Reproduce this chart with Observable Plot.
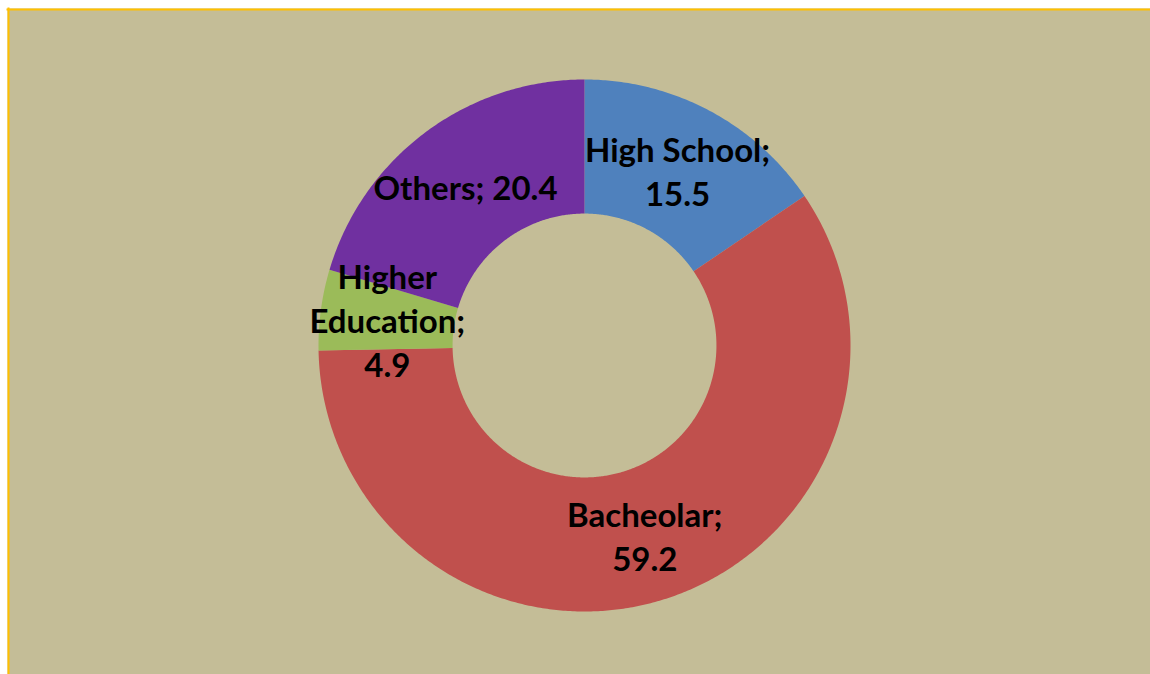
<!DOCTYPE html>
<html>
<head>
<meta charset="utf-8">
<script src="https://cdn.jsdelivr.net/npm/d3@7"></script>
<script src="https://cdn.jsdelivr.net/npm/@observablehq/plot@0.6"></script>
<style>
  html, body { margin: 0; padding: 0; background: #ffffff; overflow: hidden; }
  #chart svg { display: block; }
</style>
</head>
<body>
<div id="chart"></div>
<script>
// ---- data ----
const categories = ["High School", "Bacheolar", "Higher Education", "Others"];
const values = [15.5, 59.2, 4.9, 20.4];
const colors = ["#4F81BD", "#C0504D", "#9BBB59", "#7030A0"];
const labelTexts = ["High School;\n15.5", "Bacheolar;\n59.2", "Higher\nEducation;\n4.9", "Others; 20.4"];

// ---- geometry in data units (outer radius = 1) ----
const innerRatio = 0.496;
const total = d3.sum(values);
let cum = 0;
const slices = values.map((v, i) => {
  const a0 = cum / total * 2 * Math.PI;
  cum += v;
  const a1 = cum / total * 2 * Math.PI;
  return {cat: categories[i], value: v, a0, a1, label: labelTexts[i]};
});

const polyPoints = [];
for (const s of slices) {
  const n = Math.max(2, Math.ceil((s.a1 - s.a0) / (Math.PI / 360)));
  for (let k = 0; k <= n; k++) {
    const a = s.a0 + (s.a1 - s.a0) * k / n;
    polyPoints.push({cat: s.cat, x: Math.sin(a), y: Math.cos(a)});
  }
  for (let k = n; k >= 0; k--) {
    const a = s.a0 + (s.a1 - s.a0) * k / n;
    polyPoints.push({cat: s.cat, x: innerRatio * Math.sin(a), y: innerRatio * Math.cos(a)});
  }
}

const midR = (1 + innerRatio) / 2;
const labels = slices.map(s => {
  const m = (s.a0 + s.a1) / 2;
  return {cat: s.cat, label: s.label, x: midR * Math.sin(m), y: midR * Math.cos(m)};
});

const W = 1150, H = 674, R = 266, cx = 584, cy = 345;
const fontSize = 33;

const chart = Plot.plot({
  width: W,
  height: H,
  margin: 0,
  style: {background: "#ffffff"},
  x: {domain: [-cx / R, (W - cx) / R], axis: null},
  y: {domain: [-(H - cy) / R, cy / R], axis: null},
  color: {domain: categories, range: colors},
  marks: [
    Plot.frame({fill: "#C4BD97", stroke: "none", insetLeft: 7, insetTop: 8}),
    Plot.frame({anchor: "top", stroke: "#FFC000", strokeWidth: 2, insetLeft: 7, insetTop: 9}),
    Plot.frame({anchor: "left", stroke: "#FFC000", strokeWidth: 2, insetLeft: 8, insetTop: 8}),
    Plot.line(polyPoints, {x: "x", y: "y", z: "cat", fill: "cat", stroke: "none", curve: "linear-closed"}),
    Plot.text(labels, {
      x: "x", y: "y", text: "label",
      fontSize: fontSize, fontWeight: "bold", fontFamily: "Lato",
      lineHeight: 44 / fontSize, fill: "#000000", textAnchor: "middle"
    })
  ]
});
document.getElementById("chart").appendChild(chart);
</script>
</body>
</html>
